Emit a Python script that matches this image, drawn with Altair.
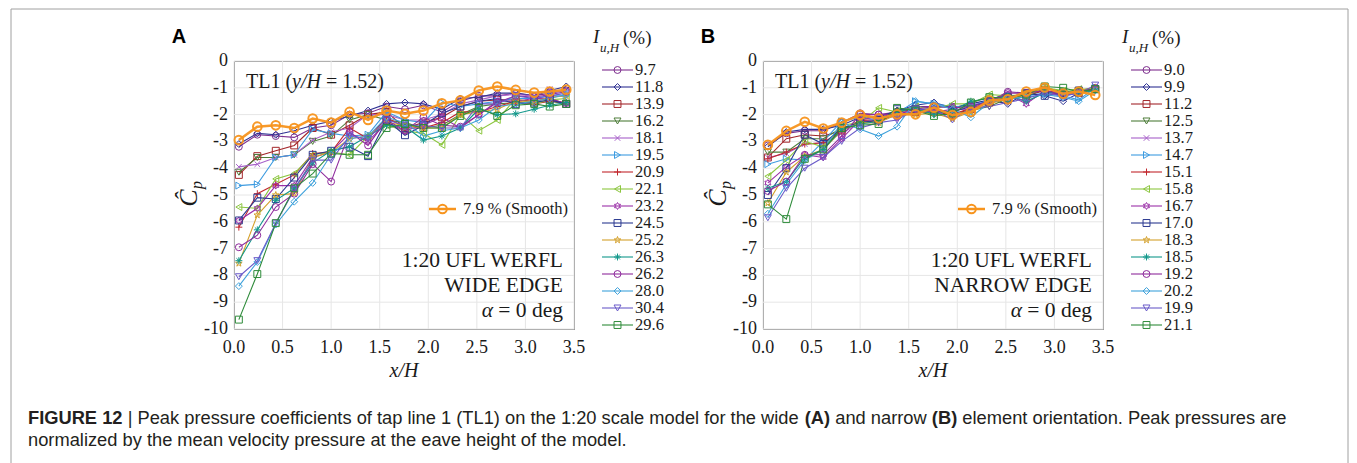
import math
import altair as alt
import pandas as pd

# ---------------- data ----------------
XS = [0.05, 0.24, 0.43, 0.62, 0.81, 1.00, 1.19, 1.38, 1.57, 1.76,
      1.95, 2.14, 2.33, 2.52, 2.71, 2.90, 3.09, 3.25, 3.42]

KEYS = ["s%02d" % i for i in range(1, 17)]
LABELS_A = ["9.7", "11.8", "13.9", "16.2", "18.1", "19.5", "20.9", "22.1",
            "23.2", "24.5", "25.2", "26.3", "26.2", "28.0", "30.4", "29.6"]
LABELS_B = ["9.0", "9.9", "11.2", "12.5", "13.7", "14.7", "15.1", "15.8",
            "16.7", "17.0", "18.3", "18.5", "19.2", "20.2", "19.9", "21.1"]
SMOOTH_LABEL = "7.9 % (Smooth)"

A_SMOOTH = [-2.95, -2.45, -2.4, -2.5, -2.15, -2.3, -1.9, -2.2, -1.85, -1.97, -1.85, -1.58, -1.47, -1.1, -0.95, -1.08, -1.18, -1.14, -1.07]
A01 = [-3.2, -2.75, -2.8, -2.85, -2.5, -2.4, -2.0, -1.95, -1.7, -1.8, -1.65, -1.9, -1.5, -1.3, -1.3, -1.2, -1.3, -1.2, -1.1]
A02 = [-3.1, -2.7, -2.75, -2.6, -2.4, -2.25, -2.05, -1.85, -1.6, -1.55, -1.6, -1.8, -1.4, -1.35, -1.2, -1.2, -1.3, -1.1, -0.95]
A03 = [-4.25, -3.55, -3.35, -3.15, -2.5, -2.75, -2.4, -2.0, -1.9, -2.5, -2.3, -2.1, -1.7, -1.5, -1.45, -1.45, -1.5, -1.4, -1.6]
A04 = [-4.15, -3.6, -3.6, -3.5, -3.0, -2.8, -2.2, -2.0, -2.2, -2.3, -2.5, -2.4, -2.0, -1.7, -1.6, -1.55, -1.55, -1.5, -1.6]
A05 = [-3.95, -3.85, -3.6, -3.5, -2.95, -2.65, -2.5, -2.0, -2.0, -2.2, -2.2, -2.0, -1.6, -1.45, -1.3, -1.25, -1.3, -1.05, -1.2]
A06 = [-4.65, -4.6, -3.6, -3.5, -2.55, -2.7, -2.8, -2.75, -1.9, -2.2, -2.3, -1.55, -1.7, -1.6, -1.5, -1.4, -1.4, -1.3, -1.3]
A07 = [-6.2, -4.95, -4.6, -4.25, -3.45, -3.4, -2.5, -2.9, -2.1, -2.5, -2.5, -2.3, -1.9, -1.9, -1.7, -1.5, -1.6, -1.5, -1.55]
A08 = [-5.45, -5.5, -4.4, -4.2, -3.5, -3.4, -3.5, -2.8, -2.4, -2.6, -2.7, -3.13, -2.0, -2.6, -2.2, -1.4, -1.6, -1.45, -1.4]
A09 = [-5.95, -5.5, -4.65, -4.65, -3.6, -3.4, -2.7, -3.0, -2.3, -2.6, -2.4, -2.1, -2.5, -2.0, -1.5, -1.5, -1.4, -1.4, -1.6]
A10 = [-5.95, -5.1, -5.15, -4.35, -3.5, -3.35, -3.2, -3.55, -2.2, -2.77, -2.4, -1.95, -1.7, -1.5, -1.4, -1.6, -1.55, -1.45, -1.6]
A11 = [-7.55, -5.75, -5.0, -4.95, -3.6, -3.4, -2.9, -2.8, -2.3, -2.4, -2.5, -2.5, -2.0, -1.9, -1.8, -1.5, -1.5, -1.35, -1.3]
A12 = [-7.45, -6.3, -5.2, -4.75, -3.8, -3.35, -3.2, -2.8, -2.4, -2.45, -2.95, -2.8, -2.5, -1.8, -2.0, -1.97, -1.8, -1.65, -1.55]
A13 = [-6.95, -6.5, -5.45, -4.95, -3.85, -4.5, -2.65, -3.15, -2.2, -2.6, -2.1, -2.4, -2.45, -2.0, -1.55, -1.3, -1.35, -1.25, -1.15]
A14 = [-8.4, -7.5, -6.1, -5.25, -4.55, -3.5, -2.9, -2.8, -2.1, -2.3, -2.8, -2.6, -2.5, -2.2, -1.7, -1.6, -1.5, -1.4, -1.25]
A15 = [-8.05, -7.45, -6.05, -4.8, -3.7, -3.7, -2.8, -2.9, -2.2, -2.4, -2.4, -2.5, -2.5, -1.6, -1.6, -1.3, -1.4, -1.3, -1.2]
A16 = [-9.65, -7.95, -6.05, -4.75, -4.2, -3.45, -3.5, -3.5, -2.5, -2.35, -2.5, -2.5, -2.05, -1.75, -2.05, -1.65, -1.6, -1.7, -1.6]

B_SMOOTH = [-3.13, -2.61, -2.27, -2.52, -2.3, -2.01, -2.14, -1.99, -1.99, -1.74, -2.02, -1.9, -1.47, -1.43, -1.14, -0.99, -1.22, -1.14, -1.27]
B01 = [-3.15, -2.7, -2.6, -2.6, -2.3, -1.95, -2.0, -1.9, -1.7, -1.7, -1.7, -1.7, -1.5, -1.15, -1.2, -1.1, -1.2, -1.1, -1.0]
B02 = [-3.2, -2.65, -2.55, -2.55, -2.4, -2.1, -2.1, -1.85, -1.65, -1.55, -1.75, -1.6, -1.45, -1.6, -1.2, -1.3, -1.5, -1.2, -1.0]
B03 = [-3.6, -2.9, -2.75, -2.8, -2.6, -2.2, -2.2, -2.0, -1.9, -1.9, -2.0, -1.8, -1.55, -1.35, -1.3, -1.1, -1.25, -1.2, -1.05]
B04 = [-3.4, -3.4, -2.9, -2.9, -2.5, -2.3, -2.3, -1.9, -1.8, -2.0, -2.0, -1.85, -1.7, -1.4, -1.35, -1.0, -1.15, -1.1, -1.1]
B05 = [-3.6, -3.45, -3.1, -3.05, -2.7, -2.3, -2.1, -2.05, -1.7, -1.8, -1.9, -1.65, -1.5, -1.2, -1.55, -1.15, -1.3, -1.2, -0.95]
B06 = [-3.85, -3.65, -3.7, -3.0, -2.25, -2.1, -2.2, -1.95, -1.5, -1.6, -1.7, -1.7, -1.45, -1.3, -1.3, -1.2, -1.3, -1.45, -1.0]
B07 = [-3.65, -3.4, -3.1, -3.05, -2.6, -2.2, -2.3, -1.9, -1.8, -1.85, -2.0, -1.75, -1.55, -1.4, -1.2, -1.1, -1.3, -1.15, -1.05]
B08 = [-4.3, -3.7, -3.0, -3.2, -2.4, -2.3, -1.75, -1.9, -1.7, -1.8, -1.6, -1.6, -1.25, -1.3, -1.25, -1.0, -1.1, -1.05, -1.05]
B09 = [-4.55, -3.95, -3.5, -3.6, -2.9, -2.2, -2.05, -2.1, -1.9, -1.9, -1.8, -1.8, -1.5, -1.25, -1.6, -1.1, -1.3, -1.15, -1.0]
B10 = [-5.0, -4.0, -2.75, -3.1, -2.5, -2.3, -2.2, -1.8, -1.8, -1.85, -1.9, -1.7, -1.5, -1.35, -1.2, -1.3, -1.2, -1.1, -1.05]
B11 = [-5.3, -4.15, -3.55, -3.3, -2.6, -2.3, -2.3, -2.0, -2.0, -1.95, -2.15, -1.9, -1.6, -1.4, -1.3, -1.0, -1.2, -1.1, -1.0]
B12 = [-4.75, -4.5, -3.6, -3.3, -2.55, -2.35, -2.25, -1.9, -1.75, -2.0, -1.85, -1.5, -1.4, -1.3, -1.5, -1.2, -1.15, -1.2, -1.1]
B13 = [-4.85, -4.5, -3.5, -3.5, -2.8, -2.0, -2.0, -2.0, -1.8, -1.7, -1.75, -1.7, -1.5, -1.2, -1.2, -1.1, -1.25, -1.15, -1.05]
B14 = [-5.7, -4.6, -3.7, -3.3, -2.3, -2.55, -2.8, -2.45, -1.5, -1.6, -1.8, -2.1, -1.55, -1.4, -1.35, -1.25, -1.35, -1.5, -1.1]
B15 = [-5.85, -4.75, -4.0, -3.6, -3.0, -2.5, -2.3, -2.2, -1.8, -1.8, -2.2, -1.75, -1.7, -1.55, -1.4, -1.2, -1.3, -1.2, -0.9]
B16 = [-5.35, -5.9, -3.65, -3.3, -2.5, -2.4, -2.35, -1.75, -1.85, -2.05, -1.95, -1.55, -1.35, -1.4, -1.25, -0.95, -1.0, -1.15, -1.05]

A_SERIES = [A01, A02, A03, A04, A05, A06, A07, A08, A09, A10, A11, A12, A13, A14, A15, A16]
B_SERIES = [B01, B02, B03, B04, B05, B06, B07, B08, B09, B10, B11, B12, B13, B14, B15, B16]

X_TICKS = [0.0, 0.5, 1.0, 1.5, 2.0, 2.5, 3.0, 3.5]
X_TICK_LABELS = ["0.0", "0.5", "1.0", "1.5", "2.0", "2.5", "3.0", "3.5"]
Y_TICKS = [0, -1, -2, -3, -4, -5, -6, -7, -8, -9, -10]
Y_TICK_LABELS = ["0", "-1", "-2", "-3", "-4", "-5", "-6", "-7", "-8", "-9", "-10"]

CAPTION_1 = [("FIGURE 12", True),
             (" | Peak pressure coefficients of tap line 1 (TL1) on the 1:20 scale model for the wide ", False),
             ("(A)", True), (" and narrow ", False), ("(B)", True),
             (" element orientation. Peak pressures are", False)]
CAPTION_2 = "normalized by the mean velocity pressure at the eave height of the model."

# ---------------- styles ----------------
COLORS = ["#7E2F8E", "#2E3192", "#A3262A", "#4E7D3A", "#A760C9", "#3D9BE0",
          "#C1272D", "#8CC63F", "#9B30A8", "#2B3990", "#D4A02A", "#12988B",
          "#8E2A9C", "#3FA2DB", "#6A5BC9", "#2E8B3A"]
ORANGE = "#F7941D"


def star(n, r_in):
    pts = []
    for k in range(2 * n):
        ang = -math.pi / 2 + k * math.pi / n
        r = 1.0 if k % 2 == 0 else r_in
        pts.append("%.3f,%.3f" % (r * math.cos(ang), r * math.sin(ang)))
    return "M" + "L".join(pts) + "Z"


XMARK = "M-0.8,-0.8L0.8,0.8M-0.8,0.8L0.8,-0.8"
PLUS = "M-1,0L1,0M0,-1L0,1"
AST = "M-1,0L1,0M0,-1L0,1M-0.7,-0.7L0.7,0.7M-0.7,0.7L0.7,-0.7"
HEX = star(6, 0.577)
PENT = star(5, 0.40)
SHAPES = ["circle", "diamond", "square", "triangle-down", XMARK, "triangle-right",
          PLUS, "triangle-left", HEX, "square", PENT, AST, "circle", "diamond",
          "triangle-down", "square"]

SERIF = "Liberation Serif"
SANS = "Liberation Sans"
TXT = "#1a1a1a"
W, H = 340, 268
MSIZE = 48
ONE = pd.DataFrame({"a": [0]})

# Arial / Liberation Sans advance widths (per 1000 em) for placing caption runs
_REG = {" ": 278, "(": 333, ")": 333, ",": 278, ".": 278, ":": 278, "|": 260,
        "0": 556, "1": 556, "2": 556, "A": 667, "B": 667, "F": 611, "L": 556,
        "P": 667, "T": 611}
_REG.update({c: w for c, w in zip("abcdefghijklmnopqrstuvwxyz",
                                  [556, 556, 500, 556, 556, 278, 556, 556, 222, 222, 500, 222, 833,
                                   556, 556, 556, 556, 333, 500, 278, 556, 500, 722, 500, 500, 500])})
_BOLD = {" ": 278, "(": 333, ")": 333, "1": 556, "2": 556, "A": 722, "B": 722, "E": 667,
         "F": 611, "G": 778, "I": 278, "R": 722, "U": 722}


def run_width(s, bold, size):
    table = _BOLD if bold else _REG
    return sum(table.get(c, 556) for c in s) * size / 1000.0


XSCALE = alt.Scale(domain=[0, 3.5], nice=False, zero=False)
YSCALE = alt.Scale(domain=[-10, 0], nice=False, zero=False)
color_enc = alt.Color("key:N", scale=alt.Scale(domain=KEYS, range=COLORS), legend=None)
shape_enc = alt.Shape("key:N", scale=alt.Scale(domain=KEYS, range=SHAPES), legend=None)


def xq(field):
    return alt.X(field, type="quantitative", scale=XSCALE, axis=None)


def yq(field):
    return alt.Y(field, type="quantitative", scale=YSCALE, axis=None)


def long_df(series):
    rows = []
    for key, vals in zip(KEYS, series):
        for x, v in zip(XS, vals):
            rows.append({"key": key, "x": x, "cp": v})
    return pd.DataFrame(rows)


def txt(text, x, y, size, align="left", style="normal", font=SERIF, weight="normal",
        angle=0, color=TXT):
    kw = dict(text=text, font=font, fontSize=size, align=align, baseline="middle",
              fontStyle=style, fontWeight=weight, color=color)
    if angle:
        kw["angle"] = angle
    return alt.Chart(ONE).mark_text(**kw).encode(x=alt.value(x), y=alt.value(y))


def panel(series, smooth, edge_label, tag, extra=None):
    df = long_df(series)
    sdf = pd.DataFrame({"x": XS, "cp": smooth})
    xt = pd.DataFrame({"v": X_TICKS, "lab": X_TICK_LABELS})
    yt = pd.DataFrame({"v": Y_TICKS, "lab": Y_TICK_LABELS})

    xgrid = alt.Chart(xt).mark_rule(color="#e6e6e6", strokeWidth=1).encode(x=xq("v"))
    ygrid = alt.Chart(yt).mark_rule(color="#e6e6e6", strokeWidth=1).encode(y=yq("v"))
    xlab = alt.Chart(xt).mark_text(font=SERIF, fontSize=18, color=TXT, align="center",
                                   baseline="middle").encode(
        x=xq("v"), y=alt.value(H + 19), text="lab:N")
    ylab = alt.Chart(yt).mark_text(font=SERIF, fontSize=18, color=TXT, align="right",
                                   baseline="middle").encode(
        x=alt.value(-6), y=yq("v"), text="lab:N")

    lines = alt.Chart(df).mark_line(strokeWidth=1.1).encode(
        x=xq("x"), y=yq("cp"), color=color_enc, detail="key:N", order="x:Q")
    pts = alt.Chart(df).mark_point(filled=False, size=MSIZE, strokeWidth=1, opacity=1).encode(
        x=xq("x"), y=yq("cp"), color=color_enc, shape=shape_enc)
    sline = alt.Chart(sdf).mark_line(color=ORANGE, strokeWidth=2.5, opacity=0.95).encode(
        x=xq("x"), y=yq("cp"), order="x:Q")
    spts = alt.Chart(sdf).mark_point(shape="circle", filled=False, size=75, strokeWidth=2,
                                     color=ORANGE, opacity=0.95).encode(x=xq("x"), y=yq("cp"))
    leg_rule = alt.Chart(ONE).mark_rule(color=ORANGE, strokeWidth=2.5).encode(
        x=alt.value(195), x2=alt.value(222), y=alt.value(148))
    leg_pt = alt.Chart(ONE).mark_point(shape="circle", filled=False, size=75, strokeWidth=2,
                                       color=ORANGE, opacity=1).encode(
        x=alt.value(208.5), y=alt.value(148))
    layers = [xgrid, ygrid]
    if extra is not None:
        layers.extend(extra)
    layers += [lines, pts, sline, spts, xlab, ylab, leg_rule, leg_pt,
               txt(SMOOTH_LABEL, 229, 148, 16.5),
               txt("x/H", W / 2, 310, 20, align="center", style="italic"),
               txt("TL1 (", 12, 21, 20),
               txt("y/H", 58, 21, 20, style="italic"),
               txt("= 1.52)", 92, 21, 20),
               txt("1:20 UFL WERFL", 329, 200, 21.5, align="right"),
               txt(edge_label, 329, 225, 21.5, align="right"),
               txt("= 0 deg", 329, 250, 21.5, align="right"),
               txt("α", 259, 250, 21.5, align="right", style="italic"),
               txt("Ĉ", -45, 137, 26, align="center", style="italic", angle=270),
               txt("p", -37, 124, 16, align="center", style="italic", angle=270),
               txt(tag, -55, -24, 20, align="center", font=SANS, weight="bold", color="#000000")]
    return alt.layer(*layers).properties(
        width=W, height=H, view=alt.ViewBackground(stroke="#7a7a7a", strokeWidth=1))


def legend(labels):
    df = pd.DataFrame({"key": KEYS, "label": labels, "row": list(range(16))})
    yenc = alt.Y("row:Q", scale=alt.Scale(domain=[0, 15], range=[9, 281]), axis=None)
    rule = alt.Chart(df).mark_rule(strokeWidth=1.1).encode(
        x=alt.value(18), x2=alt.value(49), y=yenc, color=color_enc)
    pts = alt.Chart(df).mark_point(filled=False, size=MSIZE, strokeWidth=1, opacity=1).encode(
        x=alt.value(33.5), y="row:Q", color=color_enc, shape=shape_enc)
    lab = alt.Chart(df).mark_text(font=SERIF, fontSize=16.5, align="left", baseline="middle",
                                  color=TXT).encode(x=alt.value(51), y="row:Q", text="label:N")
    return alt.layer(
        rule, pts, lab,
        txt("I", 9, -24, 19, style="italic"),
        txt("u,H", 16, -13, 13, style="italic"),
        txt("(%)", 39, -23, 19),
    ).properties(width=169, height=H)


# frame and caption (drawn relative to panel A's plot area)
CAP_X, CAP_Y1, CAP_Y2 = -206, 358, 380
CAP_SIZE = 18.3
CAP_COLOR = "#231F20"
frame = alt.Chart(ONE).mark_rect(fillOpacity=0, stroke="#a0a0a0", strokeWidth=1).encode(
    x=alt.value(-223), x2=alt.value(1114), y=alt.value(-52), y2=alt.value(410))
caption = [frame]
cx = CAP_X
for s, bold in CAPTION_1:
    lead = len(s) - len(s.lstrip(" "))
    cx += run_width(" " * lead, bold, CAP_SIZE)
    core = s.strip(" ")
    caption.append(txt(core, cx, CAP_Y1, CAP_SIZE, font=SANS,
                       weight="bold" if bold else "normal", color=CAP_COLOR))
    cx += run_width(core, bold, CAP_SIZE)
    trail = len(s) - len(s.rstrip(" "))
    cx += run_width(" " * trail, bold, CAP_SIZE)
caption.append(txt(CAPTION_2, CAP_X, CAP_Y2, CAP_SIZE, font=SANS, color=CAP_COLOR))

pA = panel(A_SERIES, A_SMOOTH, "WIDE EDGE", "A", extra=caption)
pB = panel(B_SERIES, B_SMOOTH, "NARROW EDGE", "B")

chart = alt.hconcat(pA, legend(LABELS_A), pB, legend(LABELS_B), spacing=10, bounds="flush").properties(
    padding={"left": 2, "top": 0, "right": 0, "bottom": 0}
).configure_view(stroke="transparent")

chart.save("out.html", embed_options={"renderer": "svg", "actions": False})
